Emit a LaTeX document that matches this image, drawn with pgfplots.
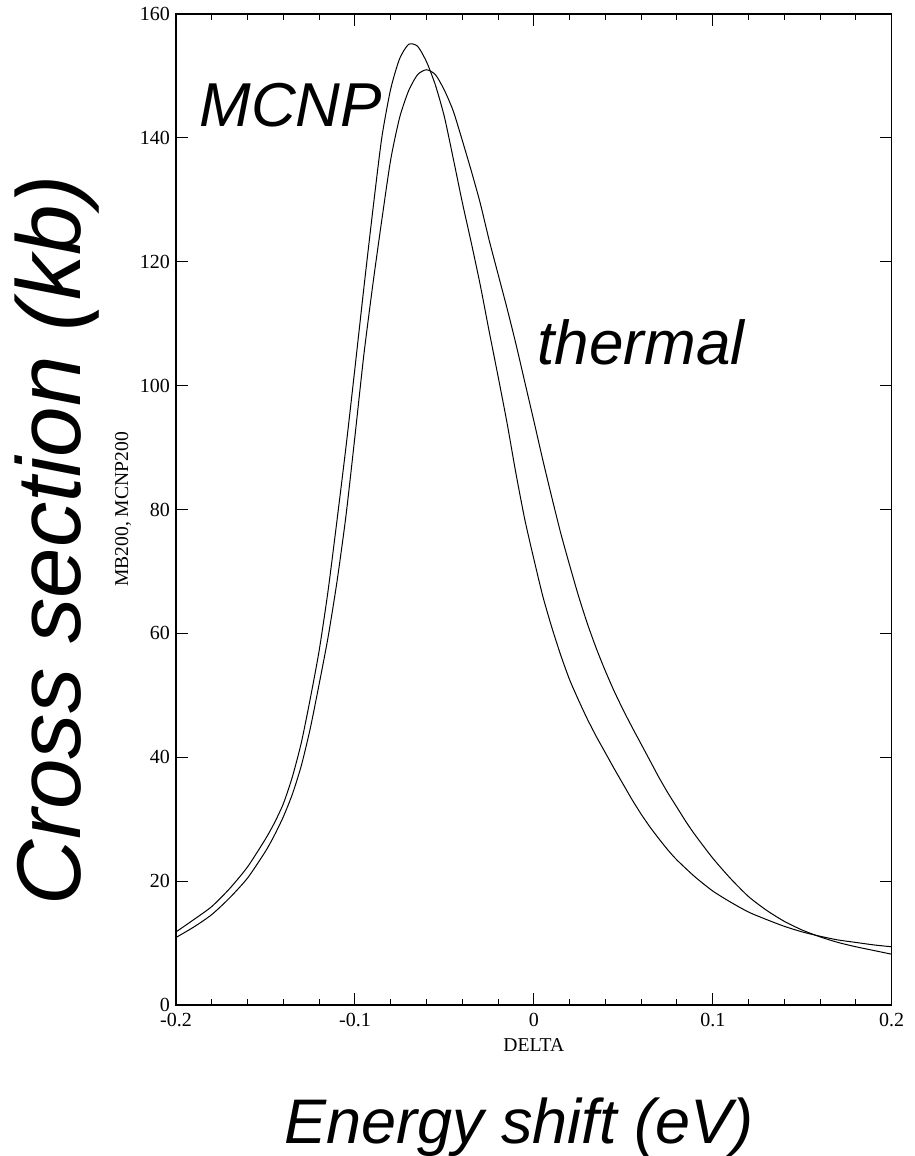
\documentclass[border=0pt]{standalone}
\usepackage{fontspec}
\setmainfont{Liberation Serif}
\newfontfamily\hv{Liberation Sans}
\usepackage{pgfplots}
\pgfplotsset{compat=1.18}
\usepackage{pgfplotstable}

\pgfplotstableread{
x y
-0.200 11.8
-0.190 13.8
-0.180 15.9
-0.170 18.8
-0.160 22.3
-0.150 26.8
-0.145 29.4
-0.140 32.5
-0.135 36.8
-0.130 42.3
-0.125 49.4
-0.120 57.2
-0.115 66.9
-0.110 78.3
-0.105 90.1
-0.100 102.8
-0.095 115.8
-0.090 128.3
-0.085 140.0
-0.080 147.9
-0.075 152.8
-0.070 155.1
-0.065 154.8
-0.060 152.3
-0.055 148.5
-0.050 143.4
-0.045 136.6
-0.040 129.6
-0.035 123.1
-0.030 116.3
-0.025 108.8
-0.020 101.5
-0.015 94.0
-0.010 85.8
-0.005 78.3
0.000 72.0
0.005 66.0
0.010 61.0
0.015 56.5
0.020 52.5
0.025 49.2
0.030 46.1
0.035 43.3
0.040 40.7
0.045 38.1
0.050 35.6
0.055 33.1
0.060 30.8
0.065 28.7
0.070 26.8
0.075 25.0
0.080 23.4
0.090 20.7
0.100 18.4
0.110 16.6
0.120 15.0
0.130 13.8
0.140 12.7
0.150 11.8
0.160 11.1
0.170 10.5
0.180 10.1
0.190 9.7
0.200 9.4
}\mcnp

\pgfplotstableread{
x y
-0.200 10.9
-0.190 12.6
-0.180 14.6
-0.170 17.3
-0.160 20.5
-0.150 24.8
-0.145 27.4
-0.140 30.4
-0.135 34.0
-0.130 38.6
-0.125 44.6
-0.120 51.8
-0.115 59.4
-0.110 68.4
-0.105 79.0
-0.100 91.8
-0.095 105.0
-0.090 116.3
-0.085 126.7
-0.080 136.5
-0.075 143.3
-0.070 147.6
-0.065 150.2
-0.060 151.0
-0.055 150.2
-0.050 147.7
-0.045 144.3
-0.040 139.6
-0.035 134.7
-0.030 129.5
-0.025 123.5
-0.020 118.0
-0.015 112.5
-0.010 106.7
-0.005 100.5
0.000 94.3
0.005 88.0
0.010 82.0
0.015 76.2
0.020 71.0
0.025 66.0
0.030 61.5
0.035 57.5
0.040 53.9
0.045 50.6
0.050 47.6
0.055 44.8
0.060 42.1
0.065 39.4
0.070 36.7
0.075 34.2
0.080 31.9
0.085 29.6
0.090 27.5
0.100 23.7
0.110 20.4
0.120 17.5
0.130 15.3
0.140 13.5
0.150 12.1
0.160 11.0
0.170 10.1
0.180 9.4
0.190 8.8
0.200 8.2
}\thermal

\begin{document}
\begin{tikzpicture}
\begin{axis}[
  name=ax,
  width=715.7pt, height=991pt, scale only axis,
  xmin=-0.2, xmax=0.2, ymin=0, ymax=160,
  xtick={-0.2,-0.1,0,0.1,0.2},
  xticklabels={-0.2,-0.1,0,0.1,0.2},
  minor x tick num=4,
  ytick={0,20,40,60,80,100,120,140,160},
  yticklabels={0,20,40,60,80,100,120,140,160},
  tick align=inside, tick pos=both,
  major tick length=12pt, minor tick length=6pt,
  tick style={black, line width=1pt},
  axis line style={black, line width=1.4pt},
  ticklabel style={font=\fontsize{20}{22}\selectfont, inner sep=0pt},
  xticklabel shift=7.5pt, yticklabel shift=6pt,
  clip=true,
]
\addplot[black, line width=1pt, smooth, tension=0.4] table[x=x,y=y] {\mcnp};
\addplot[black, line width=1pt, smooth, tension=0.4] table[x=x,y=y] {\thermal};
\end{axis}
\node[anchor=base, font=\fontsize{19.6}{21}\selectfont] at ([xshift=357.8pt,yshift=-46.7pt]ax.south west) {DELTA};
\node[rotate=90, anchor=center, font=\fontsize{19.6}{21}\selectfont] at ([xshift=-53pt,yshift=495.5pt]ax.south west) {MB200, MCNP200};
\node[anchor=base west, font=\fontsize{62}{70}\selectfont\hv\itshape] at ([xshift=20pt,yshift=878pt]ax.south west) {MCNP};
\node[anchor=base west, font=\fontsize{62}{70}\selectfont\hv\itshape] at ([xshift=358pt,yshift=640pt]ax.south west) {thermal};
\node[anchor=base, font=\fontsize{63}{70}\selectfont\hv\itshape] at ([xshift=343pt,yshift=-138pt]ax.south west) {Energy shift (eV)};
\node[anchor=base, rotate=90, font=\fontsize{90.6}{95}\selectfont\hv\itshape] at ([xshift=-95pt,yshift=465pt]ax.south west) {Cross section (kb)};
\pgfresetboundingbox
\path[use as bounding box] ([xshift=-176pt,yshift=-151pt]ax.south west) rectangle ([xshift=738pt,yshift=1005pt]ax.south west);
\end{tikzpicture}
\end{document}
